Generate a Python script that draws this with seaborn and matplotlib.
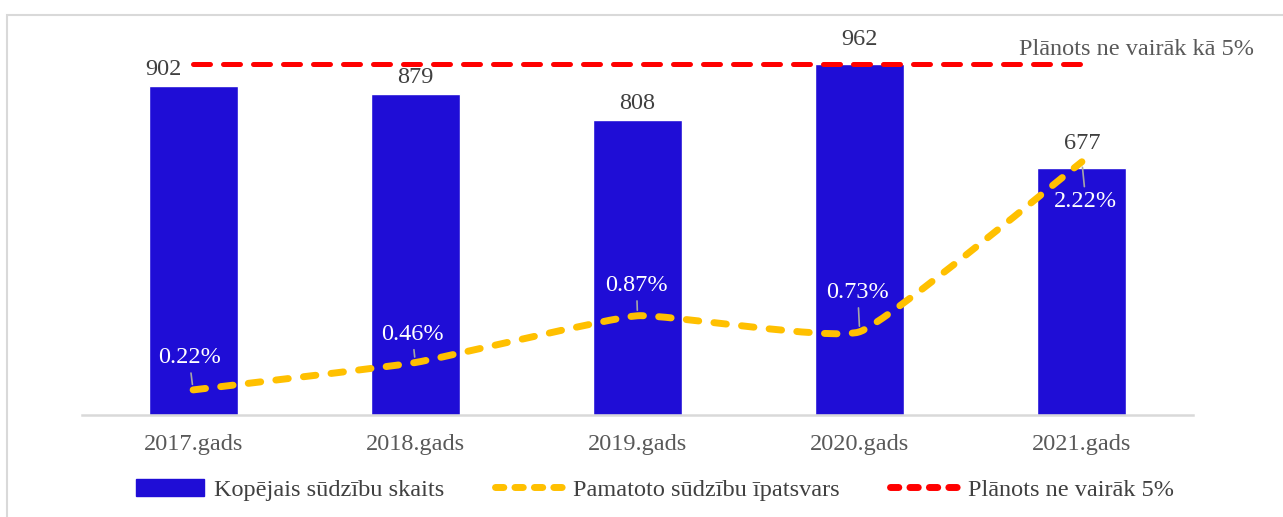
import numpy as np
import matplotlib.pyplot as plt
import seaborn as sns
from matplotlib.path import Path
from matplotlib.patches import PathPatch, Rectangle, Patch
from matplotlib.lines import Line2D

# Data
years = ['2017.gads', '2018.gads', '2019.gads', '2020.gads', '2021.gads']
complaints = [902, 879, 808, 962, 677]
justified_pct = [0.22, 0.46, 0.87, 0.73, 2.22]
target_pct = [5, 5, 5, 5, 5]
series_names = ['Kopējais sūdzību skaits', 'Pamatoto sūdzību īpatsvars', 'Plānots ne vairāk 5%']
target_label = 'Plānots ne vairāk kā 5%'

blue = '#1F0DD6'
gold = '#FFC000'
red = '#FF0000'
text_grey = '#404040'

sns.set_style('white')
plt.rcParams['font.family'] = ['Liberation Serif', 'DejaVu Serif']

W, H = 1283, 517
fig = plt.figure(figsize=(W / 100, H / 100), dpi=100)
ax = fig.add_axes([82 / W, 1 - 415 / H, 1111 / W, 365 / H])

# bars
sns.barplot(x=years, y=complaints, color=blue, saturation=1, width=0.4, ax=ax, zorder=2)
ax.set_ylim(0, 1000)
ax.set_xlim(-0.5, 4.5)
ax.set_yticks([])
ax.set_xlabel('')
ax.set_ylabel('')
for s in ['top', 'left', 'right']:
    ax.spines[s].set_visible(False)
ax.spines['bottom'].set_color('#D9D9D9')
ax.spines['bottom'].set_linewidth(1.8)
ax.tick_params(axis='x', length=0, pad=14, labelsize=17.5, labelcolor='#595959')

# count labels (offsets in px)
count_off = [(-30, 16), (0, 17), (0, 17), (0, 24), (0, 24)]
for i, v in enumerate(complaints):
    dx, dy = count_off[i]
    ax.annotate(str(v), xy=(i, v), xytext=(dx * 0.72, dy * 0.72), textcoords='offset points',
                ha='center', va='center', fontsize=17.5, color=text_grey)

# percentage axis
ax2 = ax.twinx()
ax2.set_ylim(0, 3.2)
ax2.axis('off')

# lightly smoothed line (short bezier handles, like Excel's smoothed line)
pts = np.column_stack([np.arange(len(justified_pct)), justified_pct]).astype(float)
ext = np.vstack([pts[0], pts, pts[-1]])
verts = [tuple(pts[0])]
codes = [Path.MOVETO]
k = 1 / 16
for i in range(len(pts) - 1):
    p0, p1, p2, p3 = ext[i], ext[i + 1], ext[i + 2], ext[i + 3]
    c1 = p1 + (p2 - p0) * k
    c2 = p2 - (p3 - p1) * k
    verts += [tuple(c1), tuple(c2), tuple(p2)]
    codes += [Path.CURVE4] * 3
gold_ls = (0, (1.8, 2.2))
ax2.add_patch(PathPatch(Path(verts, codes), fill=False, ec=gold, lw=5,
                        ls=gold_ls, capstyle='round', joinstyle='round', zorder=3))

pct_off = [(-4, 32), (-3, 28), (-1, 30), (-2, 39), (4, -40)]
for i, v in enumerate(justified_pct):
    dx, dy = pct_off[i]
    ax2.annotate(f'{v:.2f}%', xy=(i, v), xytext=(dx * 0.72, dy * 0.72), textcoords='offset points',
                 ha='center', va='center', fontsize=17.5, color='white',
                 arrowprops=dict(arrowstyle='-', color='#A6A6A6', lw=1.2, shrinkA=1, shrinkB=4))

# target line
ax3 = ax.twinx()
red_ls = (0, (3.4, 2.6))
sns.lineplot(x=np.arange(len(target_pct)), y=target_pct, color=red, lw=3.6, ax=ax3,
             dashes=False, zorder=4)
ax3.lines[0].set_linestyle(red_ls)
ax3.lines[0].set_dash_capstyle('round')
ax3.set_ylim(0, 5.2)
ax3.axis('off')
ax3.annotate(target_label, xy=(4, target_pct[-1]), xytext=(-63 * 0.72, 15 * 0.72),
             textcoords='offset points', ha='left', va='center', fontsize=17.5, color='#595959')

# legend
handles = [Patch(color=blue),
           Line2D([], [], color=gold, lw=5, ls=(0, (1.2, 1.6)), dash_capstyle='round'),
           Line2D([], [], color=red, lw=5, ls=(0, (1.2, 1.6)), dash_capstyle='round')]
fig.legend(handles, series_names, loc='center', bbox_to_anchor=(655 / W, 1 - 490 / H), ncol=3,
           frameon=False, fontsize=17.5, handlelength=2.8, handletextpad=0.4, columnspacing=2.1,
           labelcolor=text_grey)

# chart border
fig.add_artist(Rectangle((7 / W, -0.05), 1.1, 1 - 15 / H + 0.05, transform=fig.transFigure,
                         fill=False, ec='#D9D9D9', lw=1.5))

fig.savefig('out.png', dpi=100)
